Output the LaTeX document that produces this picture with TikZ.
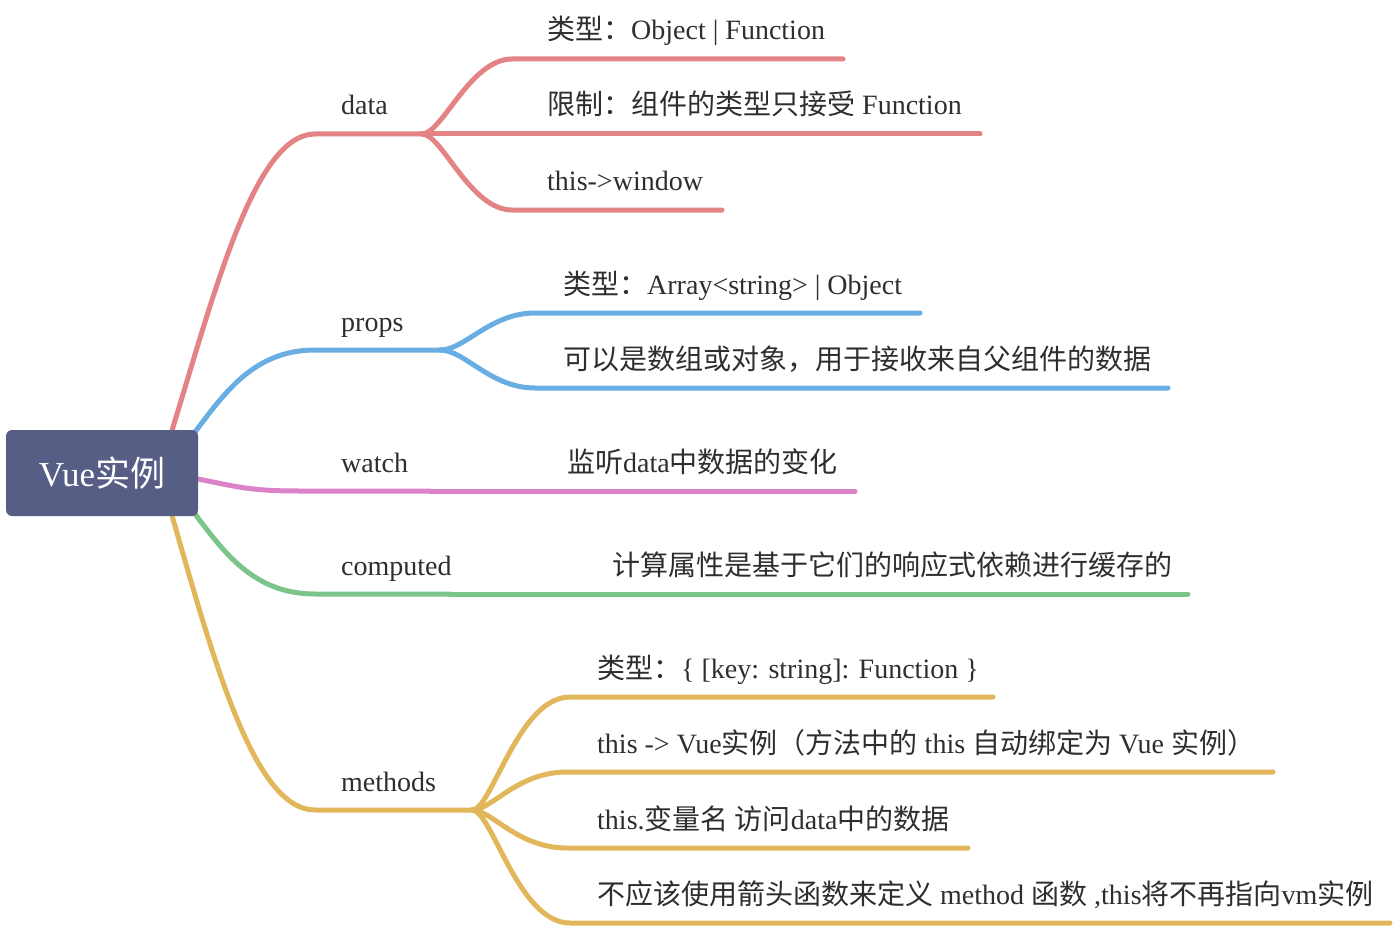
\documentclass[tikz,border=0pt]{standalone}
\usepackage{fontspec}
\setmainfont{Liberation Serif}
\newfontfamily\cjk{Noto Sans CJK SC}
\usepackage{xcolor}
\usetikzlibrary{backgrounds}
\definecolor{rootfill}{HTML}{575E85}
\definecolor{dataline}{HTML}{E38385}
\definecolor{propsline}{HTML}{69AEE3}
\definecolor{watchline}{HTML}{DC82C8}
\definecolor{computedline}{HTML}{7BC48A}
\definecolor{methodsline}{HTML}{E2B65B}
\definecolor{labeltext}{HTML}{2E2E2E}
\tikzset{
  root/.style={rectangle, rounded corners=6pt, fill=rootfill, text=white,
    minimum width=192pt, minimum height=86pt, inner sep=0pt, font=\fontsize{35}{40}\selectfont},
  topic/.style={anchor=base west, inner sep=0pt, text=labeltext, font=\fontsize{28}{32}\selectfont},
  branch/.style={line width=5pt, line cap=round}
}
\newcommand{\zh}[1]{{\cjk #1}}

\begin{document}
\begin{tikzpicture}[x=1pt, y=-1pt]
  \useasboundingbox (0,0) rectangle (1396,928);
  \node[root] (root) at (102,473) {\raisebox{2pt}{Vue\zh{实例}}};

  \node[topic] (data) at (341,115) {data};
  \node[topic] (dataType) at (547,40) {\zh{类型：}Object | Function};
  \node[topic] (dataLimit) at (547,115) {\zh{限制：组件的类型只接受} Function};
  \node[topic] (dataThis) at (547,190) {this->window};

  \node[topic] (props) at (341,331) {props};
  \node[topic] (propsType) at (563,294) {\zh{类型：}Array<string> | Object};
  \node[topic] (propsDesc) at (563,369) {\zh{可以是数组或对象，用于接收来自父组件的数据}};

  \node[topic] (watch) at (341,472) {watch};
  \node[topic] (watchDesc) at (567,472) {\zh{监听}data\zh{中数据的变化}};

  \node[topic] (computed) at (341,575) {computed};
  \node[topic] (computedDesc) at (612,575) {\zh{计算属性是基于它们的响应式依赖进行缓存的}};

  \node[topic] (methods) at (341,791) {methods};
  \node[topic] (methodsType) at (597,678) {\zh{类型：}\{ [key: string]: Function \}};
  \node[topic] (methodsThis) at (597,753) {this -> Vue\zh{实例（方法中的} this \zh{自动绑定为} Vue \zh{实例）}};
  \node[topic] (methodsVar) at (597,829) {this.\zh{变量名 访问}data\zh{中的数据}};
  \node[topic] (methodsArrow) at (597,904) {\zh{不应该使用箭头函数来定义} method \zh{函数} ,this\zh{将不再指向}vm\zh{实例}};

  \coordinate (root-d) at ([xshift=-26pt]root.north east);
  \coordinate (root-p) at ([xshift=-3pt, yshift=-2pt]root.north east);
  \coordinate (root-w) at ([yshift=-6pt]root.east);
  \coordinate (root-c) at ([xshift=-3pt, yshift=2pt]root.south east);
  \coordinate (root-m) at ([xshift=-26pt]root.south east);

  \coordinate (data-s) at (315,134);
  \coordinate (data-j) at (422,134);
  \coordinate (dataType-s) at (512,59);
  \coordinate (dataType-e) at (843,59);
  \coordinate (dataLimit-e) at (980,134);
  \coordinate (dataThis-s) at (512,210);
  \coordinate (dataThis-e) at (722,210);

  \coordinate (props-s) at (315,350);
  \coordinate (props-j) at (440,350);
  \coordinate (propsType-s) at (535,313);
  \coordinate (propsType-e) at (920,313);
  \coordinate (propsDesc-s) at (535,388);
  \coordinate (propsDesc-e) at (1168,388);

  \coordinate (watch-s) at (300,491);
  \coordinate (watch-j) at (430,491);
  \coordinate (watchDesc-e) at (855,491);

  \coordinate (computed-s) at (315,594);
  \coordinate (computed-j) at (450,594);
  \coordinate (computedDesc-e) at (1188,594);

  \coordinate (methods-s) at (315,810);
  \coordinate (methods-j) at (472,810);
  \coordinate (methodsType-s) at (570,697);
  \coordinate (methodsType-e) at (993,697);
  \coordinate (methodsThis-s) at (567,772);
  \coordinate (methodsThis-e) at (1273,772);
  \coordinate (methodsVar-s) at (567,848);
  \coordinate (methodsVar-e) at (968,848);
  \coordinate (methodsArrow-s) at (570,923);
  \coordinate (methodsArrow-e) at (1390,923);

  \begin{scope}[on background layer]
    \draw[branch, dataline] (root-d) .. controls +(43,-140) and +(-60,0) .. (data-s) -- (data-j);
    \draw[branch, dataline] (data-j) .. controls +(20,0) and +(-42,0) .. (dataType-s) -- (dataType-e);
    \draw[branch, dataline] (data-j) -- (dataLimit-e);
    \draw[branch, dataline] (data-j) .. controls +(20,0) and +(-42,0) .. (dataThis-s) -- (dataThis-e);

    \draw[branch, propsline] (root-p) .. controls +(30,-40) and +(-60,0) .. (props-s) -- (props-j);
    \draw[branch, propsline] (props-j) .. controls +(25,0) and +(-45,0) .. (propsType-s) -- (propsType-e);
    \draw[branch, propsline] (props-j) .. controls +(25,0) and +(-45,0) .. (propsDesc-s) -- (propsDesc-e);

    \draw[branch, watchline] (root-w) .. controls +(40,8) and +(-50,0) .. (watch-s) -- (watch-j);
    \draw[branch, watchline] (watch-j) -- (watchDesc-e);

    \draw[branch, computedline] (root-c) .. controls +(30,40) and +(-60,0) .. (computed-s) -- (computed-j);
    \draw[branch, computedline] (computed-j) -- (computedDesc-e);

    \draw[branch, methodsline] (root-m) .. controls +(43,150) and +(-60,0) .. (methods-s) -- (methods-j);
    \draw[branch, methodsline] (methods-j) .. controls +(20,0) and +(-52,0) .. (methodsType-s) -- (methodsType-e);
    \draw[branch, methodsline] (methods-j) .. controls +(20,0) and +(-50,0) .. (methodsThis-s) -- (methodsThis-e);
    \draw[branch, methodsline] (methods-j) .. controls +(20,0) and +(-50,0) .. (methodsVar-s) -- (methodsVar-e);
    \draw[branch, methodsline] (methods-j) .. controls +(20,0) and +(-52,0) .. (methodsArrow-s) -- (methodsArrow-e);
  \end{scope}
\end{tikzpicture}
\end{document}
